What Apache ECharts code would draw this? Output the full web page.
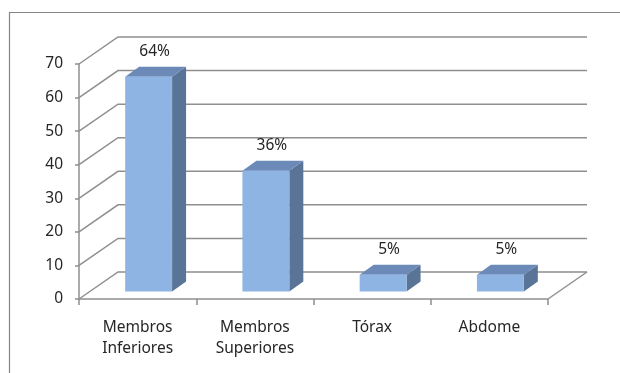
<!DOCTYPE html>
<html>
<head>
<meta charset="utf-8">
<script src="https://cdn.jsdelivr.net/npm/echarts@6/dist/echarts.min.js"></script>
<style>html,body{margin:0;padding:0;background:#fff}#c{width:620px;height:373px}</style>
</head>
<body>
<div id="c"></div>
<script>
const categories = ['Membros\nInferiores', 'Membros\nSuperiores', 'Tórax', 'Abdome'];
const values = [64, 36, 5, 5];
const pctLabels = ['64%', '36%', '5%', '5%'];
const yTicks = [0, 10, 20, 30, 40, 50, 60, 70];

const FONT = 'Noto Sans';
const TEXT_COLOR = '#262626';
const GRID_COLOR = '#8f8f8f';
const LW = 1.5;
const WALL_DX = 39, WALL_DY = -27;
const FRONT_DX = 11, FRONT_DY = -7.5;
const BAR_DX = 14, BAR_DY = -10;

const chart = echarts.init(document.getElementById('c'), null, {renderer: 'canvas'});

function wallItem(params, api) {
  const cs = params.coordSys;
  const v = api.value(1);
  const p = api.coord([0, v]);
  const x0 = cs.x, x1 = cs.x + cs.width;
  const y = p[1];
  const children = [{
    type: 'polyline',
    shape: {points: [[x0, y], [x0 + WALL_DX, y + WALL_DY], [x1 + WALL_DX, y + WALL_DY]]},
    style: {stroke: GRID_COLOR, lineWidth: LW, fill: null}
  }];
  if (v === 0) {
    children.push({
      type: 'line',
      shape: {x1: x1, y1: y, x2: x1 + WALL_DX, y2: y + WALL_DY},
      style: {stroke: GRID_COLOR, lineWidth: LW}
    });
  }
  return {type: 'group', children: children};
}

function barItem(params, api) {
  const i = api.value(0);
  const v = api.value(1);
  const top = api.coord([i, v]);
  const base = api.coord([i, 0]);
  const w = api.size([1, 0])[0] * 0.4;
  const xl = top[0] - w / 2 + FRONT_DX, xr = top[0] + w / 2 + FRONT_DX;
  const yt = top[1] + FRONT_DY, yb = base[1] + FRONT_DY;
  return {
    type: 'group',
    children: [
      {type: 'polygon', shape: {points: [[xr, yt], [xr + BAR_DX, yt + BAR_DY], [xr + BAR_DX, yb + BAR_DY], [xr, yb]]},
        style: {fill: '#5a7498'}},
      {type: 'polygon', shape: {points: [[xl, yt], [xl + BAR_DX, yt + BAR_DY], [xr + BAR_DX, yt + BAR_DY], [xr, yt]]},
        style: {fill: '#6c8ab8'}},
      {type: 'rect', shape: {x: xl, y: yt, width: xr - xl, height: yb - yt},
        style: {fill: '#8db4e3'}},
      {type: 'text', style: {text: pctLabels[params.dataIndex], x: (xl + xr) / 2 + BAR_DX / 2 - 1, y: yt - 25,
        align: 'center', verticalAlign: 'middle', fontSize: 15.5, fontFamily: FONT, fill: TEXT_COLOR}}
    ]
  };
}

chart.setOption({
  animation: false,
  backgroundColor: '#fff',
  graphic: [{
    type: 'rect', silent: true, z: -10,
    shape: {x: 9.5, y: 12.5, width: 640, height: 400},
    style: {fill: null, stroke: '#858585', lineWidth: 1.2}
  }],
  grid: {left: 79, right: 72, top: 64, bottom: 74, containLabel: false, outerBoundsMode: 'none'},
  xAxis: {
    type: 'category',
    data: categories,
    boundaryGap: true,
    axisLine: {show: true, lineStyle: {color: GRID_COLOR, width: LW}},
    axisTick: {show: true, length: 6, alignWithLabel: false, lineStyle: {color: GRID_COLOR, width: LW}},
    axisLabel: {margin: 18, fontSize: 15.5, fontFamily: FONT, color: TEXT_COLOR, lineHeight: 21, interval: 0},
    splitLine: {show: false}
  },
  yAxis: {
    type: 'value',
    min: 0, max: 70, interval: 10,
    axisLine: {show: true, lineStyle: {color: GRID_COLOR, width: LW}},
    axisTick: {show: true, length: 4, lineStyle: {color: GRID_COLOR, width: LW}},
    axisLabel: {margin: 16, fontSize: 15.5, fontFamily: FONT, color: TEXT_COLOR},
    splitLine: {show: false}
  },
  series: [
    {
      type: 'custom', clip: false, silent: true, z: 1,
      renderItem: wallItem,
      data: yTicks.map(t => [0, t])
    },
    {
      type: 'custom', clip: false, silent: true, z: 3,
      renderItem: barItem,
      data: values.map((v, i) => [i, v])
    }
  ]
});
</script>
</body>
</html>
